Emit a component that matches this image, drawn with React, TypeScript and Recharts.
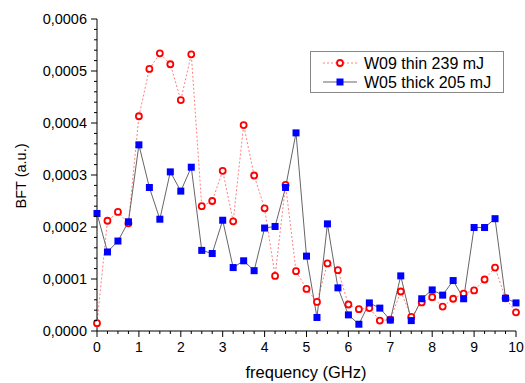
import { Legend, Line, LineChart, XAxis, YAxis } from "recharts";

// frequency sweep, GHz
const freq = [
  0, 0.25, 0.5, 0.75, 1, 1.25, 1.5, 1.75, 2, 2.25, 2.5, 2.75, 3, 3.25, 3.5,
  3.75, 4, 4.25, 4.5, 4.75, 5, 5.25, 5.5, 5.75, 6, 6.25, 6.5, 6.75, 7, 7.25,
  7.5, 7.75, 8, 8.25, 8.5, 8.75, 9, 9.25, 9.5, 9.75, 10,
];

// W09 thin 239 mJ
const thin = [
  0.000015, 0.000212, 0.000229, 0.000207, 0.000413, 0.000504, 0.000534,
  0.000513, 0.000444, 0.000532, 0.00024, 0.00025, 0.000308, 0.000211,
  0.000396, 0.000299, 0.000236, 0.000106, 0.000281, 0.000115, 0.000081,
  0.000056, 0.00013, 0.000117, 0.000051, 0.000042, 0.000044, 0.00002,
  0.000022, 0.000076, 0.000027, 0.000055, 0.000065, 0.000047, 0.000062,
  0.000072, 0.000078, 0.000099, 0.000122, 0.000063, 0.000036,
];

// W05 thick 205 mJ
const thick = [
  0.000226, 0.000152, 0.000173, 0.00021, 0.000358, 0.000276, 0.000215,
  0.000306, 0.000269, 0.000315, 0.000155, 0.000149, 0.000213, 0.000122,
  0.000135, 0.000116, 0.000198, 0.000201, 0.000276, 0.000381, 0.000144,
  0.000026, 0.000206, 0.000083, 0.000031, 0.000013, 0.000054, 0.000044,
  0.000021, 0.000106, 0.00002, 0.000062, 0.000079, 0.000069, 0.000097,
  0.000062, 0.000199, 0.000199, 0.000216, 0.000063, 0.000054,
];

const xMajor = [0, 1, 2, 3, 4, 5, 6, 7, 8, 9, 10];
const yMajor = [0, 0.0001, 0.0002, 0.0003, 0.0004, 0.0005, 0.0006];

const xTicks = xMajor.flatMap((v, i) =>
  i < xMajor.length - 1 ? [v, v + 0.25, v + 0.5, v + 0.75] : [v]
);
const yTicks = yMajor.flatMap((v, i) =>
  i < yMajor.length - 1 ? [0, 1, 2, 3, 4].map((k) => v + k * 0.00002) : [v]
);

const data = freq.map((f, i) => ({ f, thin: thin[i], thick: thick[i] }));

const FONT = "'Liberation Sans', Arial, sans-serif";

const isMajorX = (v: number) => Math.abs(v - Math.round(v)) < 1e-6;
const isMajorY = (v: number) => Math.abs(v * 1e4 - Math.round(v * 1e4)) < 1e-6;

function BottomTick({ x, y, payload }: any) {
  const major = isMajorX(payload.value);
  return (
    <g>
      <line x1={x} x2={x} y1={y} y2={y + (major ? 6 : 3)} stroke="#000" />
      {major && (
        <text x={x} y={y + 16} textAnchor="middle" dominantBaseline="central" fontSize={14} fontFamily={FONT} fill="#000">
          {Math.round(payload.value)}
        </text>
      )}
    </g>
  );
}

function TopTick({ x, y, payload }: any) {
  const major = isMajorX(payload.value);
  return <line x1={x} x2={x} y1={y} y2={y + (major ? 6 : 3)} stroke="#000" />;
}

function LeftTick({ x, y, payload }: any) {
  const major = isMajorY(payload.value);
  return (
    <g>
      <line x1={x} x2={x - (major ? 6 : 3)} y1={y} y2={y} stroke="#000" />
      {major && (
        <text x={x - 10} y={y} textAnchor="end" dominantBaseline="central" fontSize={14.5} fontFamily={FONT} fill="#000">
          {payload.value.toFixed(4).replace(".", ",")}
        </text>
      )}
    </g>
  );
}

function RightTick({ x, y, payload }: any) {
  const major = isMajorY(payload.value);
  return <line x1={x} x2={x - (major ? 6 : 3)} y1={y} y2={y} stroke="#000" />;
}

function Circle({ cx, cy }: any) {
  return <circle cx={cx} cy={cy} r={3} fill="#fff" stroke="#ff0000" strokeWidth={1.8} />;
}

function Square({ cx, cy }: any) {
  return <rect x={cx - 3.5} y={cy - 3.5} width={7} height={7} fill="#0000ff" />;
}

function LegendBox() {
  return (
    <svg width={194} height={42} style={{ display: "block" }}>
      <rect x={0.5} y={0.5} width={193} height={41} fill="#fff" stroke="#888" />
      <line x1={13} x2={47} y1={12} y2={12} stroke="#ff8080" strokeDasharray="2 2" />
      <circle cx={30} cy={12} r={3} fill="#fff" stroke="#ff0000" strokeWidth={1.8} />
      <text x={54} y={12} dominantBaseline="central" fontSize={16} fontFamily={FONT} fill="#000">
        W09 thin 239 mJ
      </text>
      <line x1={13} x2={47} y1={31} y2={31} stroke="#666" />
      <rect x={26.5} y={27.5} width={7} height={7} fill="#0000ff" />
      <text x={54} y={31} dominantBaseline="central" fontSize={16} fontFamily={FONT} fill="#000">
        W05 thick 205 mJ
      </text>
    </svg>
  );
}

export default function App() {
  return (
    <div style={{ position: "absolute", left: 0, top: 0, width: 525, height: 383, background: "#fff" }}>
      <LineChart width={525} height={383} data={data} margin={{ top: 19, right: 9, bottom: 0, left: 0 }}>
        <XAxis
          xAxisId="b"
          dataKey="f"
          type="number"
          domain={[0, 10]}
          ticks={xTicks}
          interval={0}
          height={52}
          tickSize={0}
          tickMargin={0}
          tickLine={false}
          axisLine={{ stroke: "#000" }}
          tick={<BottomTick />}
          label={{
            content: () => (
              <text x={306} y={372} textAnchor="middle" dominantBaseline="central" fontSize={16.5} fontFamily={FONT} fill="#000">
                frequency (GHz)
              </text>
            ),
          }}
        />
        <XAxis
          xAxisId="t"
          orientation="top"
          dataKey="f"
          type="number"
          domain={[0, 10]}
          ticks={xTicks}
          interval={0}
          height={0}
          tickSize={0}
          tickMargin={0}
          tickLine={false}
          axisLine={{ stroke: "#000" }}
          tick={<TopTick />}
        />
        <YAxis
          yAxisId="l"
          type="number"
          domain={[0, 0.0006]}
          ticks={yTicks}
          interval={0}
          width={97}
          tickSize={0}
          tickMargin={0}
          tickLine={false}
          axisLine={{ stroke: "#000" }}
          tick={<LeftTick />}
          label={{
            content: () => (
              <text x={21} y={176} transform="rotate(-90 21 176)" textAnchor="middle" dominantBaseline="central" fontSize={14.5} fontFamily={FONT} fill="#000">
                BFT (a.u.)
              </text>
            ),
          }}
        />
        <YAxis
          yAxisId="r"
          orientation="right"
          type="number"
          domain={[0, 0.0006]}
          ticks={yTicks}
          interval={0}
          width={0}
          tickSize={0}
          tickMargin={0}
          tickLine={false}
          axisLine={{ stroke: "#000" }}
          tick={<RightTick />}
        />
        <Legend
          layout="horizontal"
          verticalAlign="middle"
          wrapperStyle={{ left: 310, top: 51, width: 194, height: 42 }}
          content={() => <LegendBox />}
        />
        <Line
          xAxisId="b"
          yAxisId="l"
          dataKey="thin"
          type="linear"
          stroke="#ff8080"
          strokeWidth={1}
          strokeDasharray="2 2"
          dot={<Circle />}
          activeDot={false}
          isAnimationActive={false}
        />
        <Line
          xAxisId="b"
          yAxisId="l"
          dataKey="thick"
          type="linear"
          stroke="#666"
          strokeWidth={1}
          dot={<Square />}
          activeDot={false}
          isAnimationActive={false}
        />
      </LineChart>
    </div>
  );
}
